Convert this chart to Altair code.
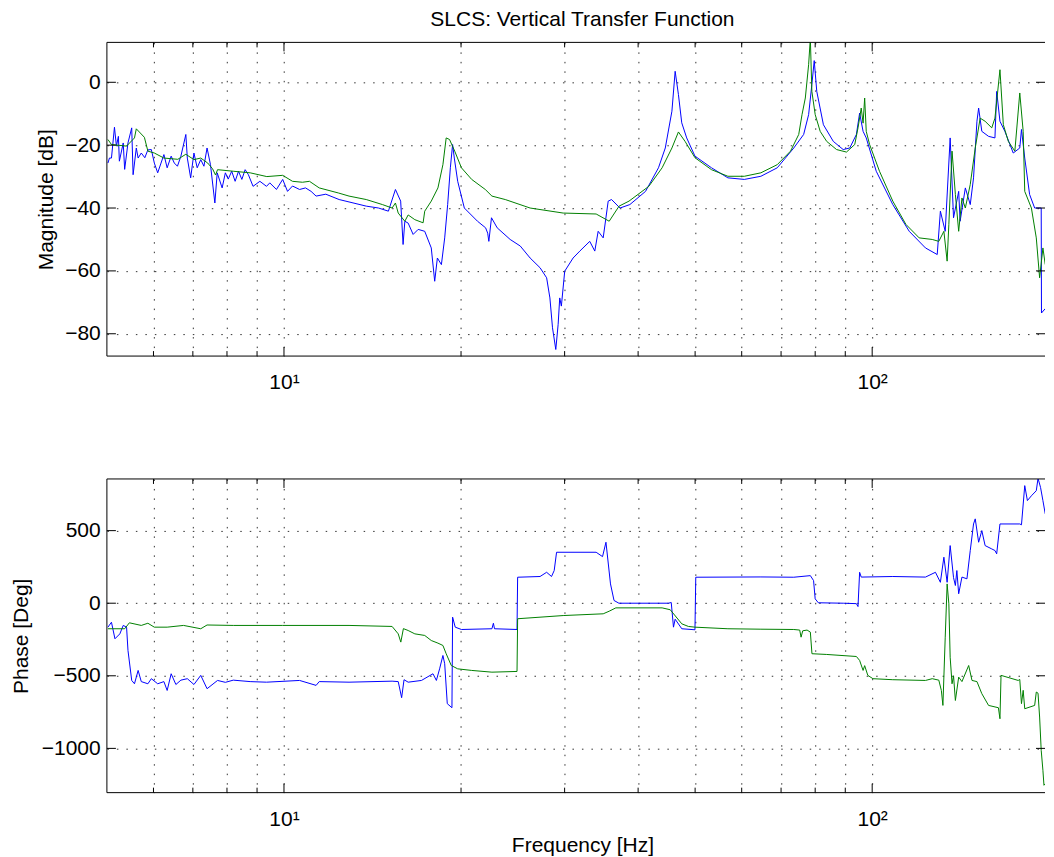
import altair as alt
import pandas as pd

# ---------------- data ----------------
freq_major = [10, 100]
freq_minor = [6, 7, 8, 9, 20, 30, 40, 50, 60, 70, 80, 90]
mag_ticks = [-80, -60, -40, -20, 0]
phase_ticks = [-1000, -500, 0, 500]
x_tick_text = {10: "10¹", 100: "10²"}

# magnitude [dB] vs frequency [Hz]
mag_blue = [
    (5.02, -25.7), (5.05, -24.1), (5.09, -24.1), (5.15, -14.3), (5.19, -20.3), (5.23, -17.2),
    (5.25, -25.1), (5.33, -19.3), (5.36, -27.7), (5.43, -19.3), (5.51, -14.5), (5.54, -29.4),
    (5.61, -20.9), (5.65, -24.1), (5.72, -22.5), (5.80, -24.0), (5.87, -21.5), (5.95, -21.4),
    (6.02, -25.7), (6.10, -28.8), (6.18, -25.7), (6.25, -23.0), (6.33, -27.2), (6.43, -23.5),
    (6.51, -25.7), (6.59, -26.7), (6.68, -23.5), (6.81, -16.6), (6.85, -24.1), (6.94, -30.4),
    (7.03, -22.5), (7.12, -27.2), (7.22, -24.6), (7.31, -26.7), (7.40, -20.9), (7.50, -26.2),
    (7.63, -38.4), (7.70, -28.8), (7.85, -33.6), (7.95, -28.8), (8.04, -30.8), (8.15, -28.3),
    (8.26, -31.5), (8.37, -28.3), (8.48, -30.9), (8.59, -27.8), (8.70, -29.4), (8.86, -33.1),
    (9.10, -31.5), (9.34, -33.1), (9.46, -32.0), (9.71, -34.1), (9.95, -30.9), (10.14, -34.7),
    (10.34, -33.0), (10.63, -34.1), (10.88, -33.6), (11.12, -34.7), (11.34, -36.2), (11.78, -35.6),
    (12.41, -37.3), (13.80, -39.4), (14.48, -40.0), (15.05, -41.0), (15.47, -34.1), (15.79, -37.8),
    (15.94, -51.6), (16.05, -44.2), (16.26, -44.8), (16.58, -48.4), (16.91, -46.8), (17.35, -47.4),
    (17.80, -52.7), (18.04, -63.3), (18.23, -55.9), (18.52, -58.0), (18.76, -49.5), (18.98, -38.9),
    (19.18, -27.2), (19.35, -19.8), (19.48, -24.1), (19.74, -31.5), (20.26, -40.0), (21.33, -44.2),
    (22.02, -46.3), (22.20, -48.0), (22.30, -50.6), (22.53, -43.1), (23.04, -46.3), (24.24, -50.0),
    (25.22, -52.1), (26.21, -55.9), (27.25, -59.0), (27.96, -62.2), (28.32, -68.6), (28.61, -78.1),
    (28.98, -85.0), (29.25, -77.0), (29.43, -68.6), (29.62, -71.2), (30.01, -60.1), (31.01, -55.9),
    (31.84, -53.7), (33.10, -50.6), (33.76, -53.7), (34.21, -47.4), (34.89, -49.5), (35.58, -37.8),
    (36.05, -37.3), (37.26, -40.0), (38.73, -38.9), (41.18, -34.7), (43.32, -27.2), (44.49, -20.9),
    (45.66, -9.2), (46.24, 3.5), (46.84, -3.9), (47.45, -12.9), (48.38, -17.7), (49.97, -23.5),
    (53.31, -27.2), (56.85, -30.4), (60.63, -30.9), (64.68, -29.9), (68.97, -27.2), (73.57, -20.9),
    (76.47, -16.6), (77.97, -10.3), (78.97, -0.7), (79.70, 6.9), (80.50, -2.9), (82.62, -13.5),
    (85.88, -18.8), (89.27, -21.4), (91.60, -20.9), (94.00, -16.6), (95.20, -9.8), (96.50, -15.6),
    (97.70, -17.7), (101.6, -28.3), (108.4, -38.9), (115.6, -47.4), (123.2, -52.7), (129.0, -54.8),
    (130.6, -41.0), (133.1, -47.4), (135.7, -17.7), (137.5, -43.1), (140.3, -34.7), (141.1, -44.2),
    (144.0, -33.6), (146.8, -38.9), (148.7, -30.4), (150.7, -12.4), (151.7, -8.2), (153.6, -15.6),
    (157.7, -17.2), (161.7, -17.7), (162.8, -2.9), (164.9, -12.4), (168.1, -15.6), (173.7, -22.5),
    (178.2, -20.9), (179.4, -15.0), (181.7, -24.1), (185.2, -35.7), (188.9, -40.0), (193.8, -40.0),
    (194.0, -73.4), (196.9, -72.0),
]
mag_green = [
    (5.02, -18.2), (5.09, -19.8), (5.40, -20.3), (5.57, -17.7), (5.61, -14.8), (5.79, -17.5),
    (5.87, -21.9), (6.02, -22.5), (6.25, -24.1), (6.60, -24.5), (6.81, -22.9), (7.03, -24.6),
    (7.22, -24.1), (7.42, -25.7), (7.56, -27.5), (7.65, -29.5), (7.71, -27.8), (8.20, -28.3),
    (8.76, -28.8), (9.35, -30.0), (9.95, -29.6), (10.34, -31.5), (10.75, -31.8), (11.05, -31.5),
    (11.48, -33.6), (12.37, -35.2), (12.90, -36.2), (13.80, -37.3), (14.70, -38.9), (15.27, -40.0),
    (15.47, -38.4), (15.64, -41.6), (16.05, -44.2), (16.26, -42.2), (16.69, -43.7), (17.24, -44.7),
    (17.35, -41.0), (17.80, -37.8), (18.27, -33.6), (18.63, -26.2), (18.87, -17.7), (19.12, -18.2),
    (19.51, -21.9), (20.03, -27.2), (20.85, -30.9), (21.99, -34.1), (22.57, -36.2), (23.78, -37.3),
    (26.21, -40.0), (29.83, -41.6), (33.94, -41.9), (35.72, -44.2), (37.13, -39.4), (38.60, -37.8),
    (41.71, -33.1), (43.94, -27.2), (45.66, -20.9), (46.84, -15.8), (48.07, -18.8), (49.97, -24.0),
    (53.31, -27.8), (56.85, -29.9), (60.63, -29.9), (64.68, -28.8), (68.97, -26.2), (72.64, -21.9),
    (75.01, -16.6), (75.98, -10.3), (76.97, -5.0), (77.97, 5.6), (78.50, 14.0), (78.97, -2.9),
    (80.01, -10.3), (81.58, -15.6), (83.69, -18.8), (86.99, -21.4), (90.42, -22.2), (93.40, -19.8),
    (94.60, -14.5), (95.80, -8.2), (96.50, -13.0), (97.10, -5.0), (97.70, -15.6), (99.00, -19.8),
    (102.9, -28.3), (108.4, -37.8), (114.1, -45.2), (120.2, -49.5), (126.5, -50.0), (129.8, -50.6),
    (132.4, -47.4), (134.1, -56.9), (135.0, -45.2), (136.7, -21.9), (138.5, -35.7), (140.3, -47.4),
    (142.1, -36.8), (144.0, -40.0), (146.8, -32.5), (149.7, -20.9), (152.6, -11.4), (155.6, -12.4),
    (159.7, -14.5), (161.7, -11.4), (164.9, 4.0), (167.1, -13.5), (170.4, -18.8), (174.8, -21.9),
    (178.2, -3.4), (180.6, -15.6), (181.7, -34.7), (186.5, -40.0), (190.1, -49.5), (192.6, -62.2),
    (195.1, -52.7), (196.9, -58.0),
]

# phase [deg] vs frequency [Hz]
phase_blue = [
    (5.02, -165), (5.09, -131), (5.16, -245), (5.26, -211), (5.33, -153), (5.40, -165),
    (5.43, -325), (5.51, -532), (5.57, -555), (5.65, -463), (5.72, -540), (5.87, -555),
    (5.95, -520), (6.10, -555), (6.25, -540), (6.33, -601), (6.43, -486), (6.55, -560),
    (6.68, -530), (6.85, -520), (7.03, -560), (7.22, -497), (7.40, -589), (7.71, -532),
    (7.95, -545), (8.20, -530), (8.76, -540), (9.34, -544), (10.63, -532), (11.34, -566),
    (11.48, -540), (12.90, -544), (15.27, -537), (15.64, -540), (15.85, -651), (16.00, -527),
    (16.26, -544), (17.13, -532), (17.92, -486), (18.16, -532), (18.39, -452), (18.63, -360),
    (18.76, -417), (18.95, -692), (19.30, -720), (19.35, -96), (19.55, -165), (20.03, -181),
    (22.57, -176), (22.70, -138), (22.80, -176), (24.90, -181), (24.96, 179), (27.25, 184),
    (27.96, 213), (28.50, 184), (28.80, 225), (29.07, 351), (33.94, 351), (34.80, 321),
    (35.27, 420), (35.90, 133), (36.40, 19), (37.10, 0), (45.06, 0), (45.54, 5),
    (45.94, -165), (46.24, -110), (47.46, -176), (49.97, -183), (50.13, 179), (64.68, 181),
    (73.57, 179), (78.50, 190), (79.50, 156), (80.00, 30), (81.00, 3), (89.30, 0),
    (94.00, -3), (94.60, -23), (95.20, 213), (95.80, 180), (108.4, 184), (123.2, 180),
    (128.1, 213), (130.6, 144), (132.4, 317), (134.1, 144), (135.7, 397), (137.5, 176),
    (138.5, 122), (139.3, 225), (140.3, 65), (142.1, 180), (144.9, 168), (146.8, 363),
    (148.7, 546), (149.7, 581), (151.7, 420), (153.6, 500), (155.6, 397), (159.7, 374),
    (161.7, 363), (162.8, 340), (164.9, 546), (178.2, 546), (179.4, 540), (181.7, 810),
    (183.6, 707), (186.5, 740), (190.1, 775), (191.4, 860), (193.3, 798), (195.1, 707),
    (196.9, 615),
]
phase_green = [
    (5.02, -176), (5.36, -176), (5.46, -135), (5.72, -153), (5.87, -138), (6.02, -165),
    (6.33, -165), (6.75, -153), (7.22, -176), (7.40, -150), (8.20, -153), (9.95, -153),
    (12.90, -153), (15.27, -160), (15.64, -211), (15.80, -268), (15.96, -175), (16.26, -188),
    (16.69, -211), (17.35, -222), (17.80, -257), (18.27, -275), (18.63, -291), (18.87, -348),
    (19.25, -429), (19.74, -452), (20.85, -463), (22.57, -475), (24.90, -470), (24.96, -107),
    (29.83, -85), (34.89, -73), (35.72, -55), (36.66, -32), (43.94, -32), (45.36, -45),
    (47.46, -142), (48.70, -160), (49.97, -165), (56.85, -176), (64.68, -179), (73.57, -181),
    (75.30, -185), (75.70, -234), (76.20, -190), (77.50, -185), (78.50, -199), (79.00, -348),
    (83.70, -353), (94.00, -367), (95.20, -394), (96.50, -463), (97.10, -430), (98.30, -497),
    (100.3, -520), (108.4, -527), (123.2, -532), (126.5, -520), (129.8, -530), (131.1, -601),
    (131.9, -704), (133.1, -234), (134.1, 133), (135.0, -4), (135.7, -372), (136.7, -555),
    (137.5, -500), (138.5, -670), (140.3, -509), (142.1, -540), (145.9, -429), (147.8, -532),
    (150.7, -540), (153.6, -623), (157.7, -704), (163.9, -720), (164.9, -796), (165.6, -497),
    (177.1, -532), (178.2, -525), (179.4, -692), (180.6, -600), (181.7, -727), (188.9, -704),
    (190.1, -612), (191.4, -620), (192.6, -784), (193.8, -1014), (195.1, -1151), (195.9, -1254),
    (196.9, -1243),
]

# ---------------- layout / style ----------------
F_DOMAIN = [5, 196.7]
MAG_DOMAIN = [-87.1, 12.7]
PH_DOMAIN = [-1305, 856]
W, H = 939, 314
FONT = "Liberation Sans"
FS = 21
GRID = dict(grid=True, gridDash=[1.5, 8], gridColor="#333333", gridWidth=1, gridOpacity=1)


def frame_df(pairs, name):
    return pd.DataFrame({
        "f": [p[0] for p in pairs],
        "v": [p[1] for p in pairs],
        "s": name,
        "i": list(range(len(pairs))),
    })


xs = alt.Scale(type="log", domain=F_DOMAIN, nice=False)
label_expr = " : ".join(
    f"datum.value == {k} ? '{v}'" for k, v in x_tick_text.items()
) + " : ''"


def panel(blue, green, ydomain, yticks, ytitle, ytitle_x, xtitle):
    ys = alt.Scale(domain=ydomain, nice=False, zero=False)
    data = pd.concat([frame_df(blue, "blue"), frame_df(green, "green")], ignore_index=True)

    x_axis = alt.Axis(
        values=freq_minor + freq_major, labelExpr=label_expr, labelOverlap=False,
        labelFont=FONT, labelFontSize=FS, labelColor="black", labelBaseline="alphabetic",
        labelPadding=32.5, domain=False, ticks=False, tickSize=0,
        title=xtitle, titleFont=FONT, titleFontSize=FS, titleFontWeight="normal",
        titleColor="black", titleBaseline="alphabetic", titleAlign="center",
        titleX=476, titleY=59.4, **GRID,
    )
    y_axis = alt.Axis(
        values=yticks, format="d", labelFont=FONT, labelFontSize=FS, labelColor="black",
        labelPadding=6.7, domain=False, ticks=False, tickSize=0,
        title=ytitle, titleFont=FONT, titleFontSize=FS, titleFontWeight="normal",
        titleColor="black", titleAngle=270, titleBaseline="alphabetic", titleAlign="center",
        titleX=ytitle_x, titleY=H / 2, **GRID,
    )
    x_enc = alt.X("f:Q", scale=xs, axis=x_axis)
    y_enc = alt.Y("v:Q", scale=ys, axis=y_axis)

    lines = alt.Chart(data).mark_line(strokeWidth=1, clip=True).encode(
        x=x_enc,
        y=y_enc,
        color=alt.Color("s:N", scale=alt.Scale(domain=["blue", "green"],
                                               range=["#0000ff", "#008000"]), legend=None),
        order="i:Q",
    )

    maj = pd.DataFrame({"f": freq_major})
    mnr = pd.DataFrame({"f": freq_minor})
    yt = pd.DataFrame({"v": yticks})
    one = pd.DataFrame({"a": [0]})
    rule = dict(color="black", strokeWidth=1)

    def xtick(df, y0, y1):
        return alt.Chart(df).mark_rule(**rule).encode(
            x=x_enc, y=alt.value(y0), y2=alt.value(y1))

    def ytick(x0, x1):
        return alt.Chart(yt).mark_rule(**rule).encode(
            y=y_enc, x=alt.value(x0), x2=alt.value(x1))

    frame_top = alt.Chart(one).mark_rule(**rule).encode(
        x=alt.value(0), x2=alt.value(W), y=alt.value(0))
    frame_bot = alt.Chart(one).mark_rule(**rule).encode(
        x=alt.value(0), x2=alt.value(W), y=alt.value(H))
    frame_left = alt.Chart(one).mark_rule(**rule).encode(
        x=alt.value(0), y=alt.value(0), y2=alt.value(H))

    return alt.layer(
        lines,
        xtick(maj, H, H - 9), xtick(maj, 0, 9),
        xtick(mnr, H, H - 5), xtick(mnr, 0, 5),
        ytick(0, 9), ytick(W - 9, W),
        frame_top, frame_bot, frame_left,
    ).properties(width=W, height=H)


top = panel(mag_blue, mag_green, MAG_DOMAIN, mag_ticks, "Magnitude [dB]", -54.3, "").properties(
    title=alt.Title(
        "SLCS: Vertical Transfer Function", font=FONT, fontSize=FS, fontWeight="normal",
        color="black", anchor="middle", offset=-5.1, baseline="alphabetic", dx=6.5,
    )
)
bottom = panel(phase_blue, phase_green, PH_DOMAIN, phase_ticks, "Phase [Deg]", -79.3,
               "Frequency [Hz]")

chart = alt.vconcat(top, bottom, spacing=123, bounds="flush").properties(
    padding={"left": 2, "top": 0, "right": 0, "bottom": 0}
).configure(font=FONT).configure_view(strokeWidth=0)

chart.save("out.html", embed_options={"renderer": "svg", "actions": False})
